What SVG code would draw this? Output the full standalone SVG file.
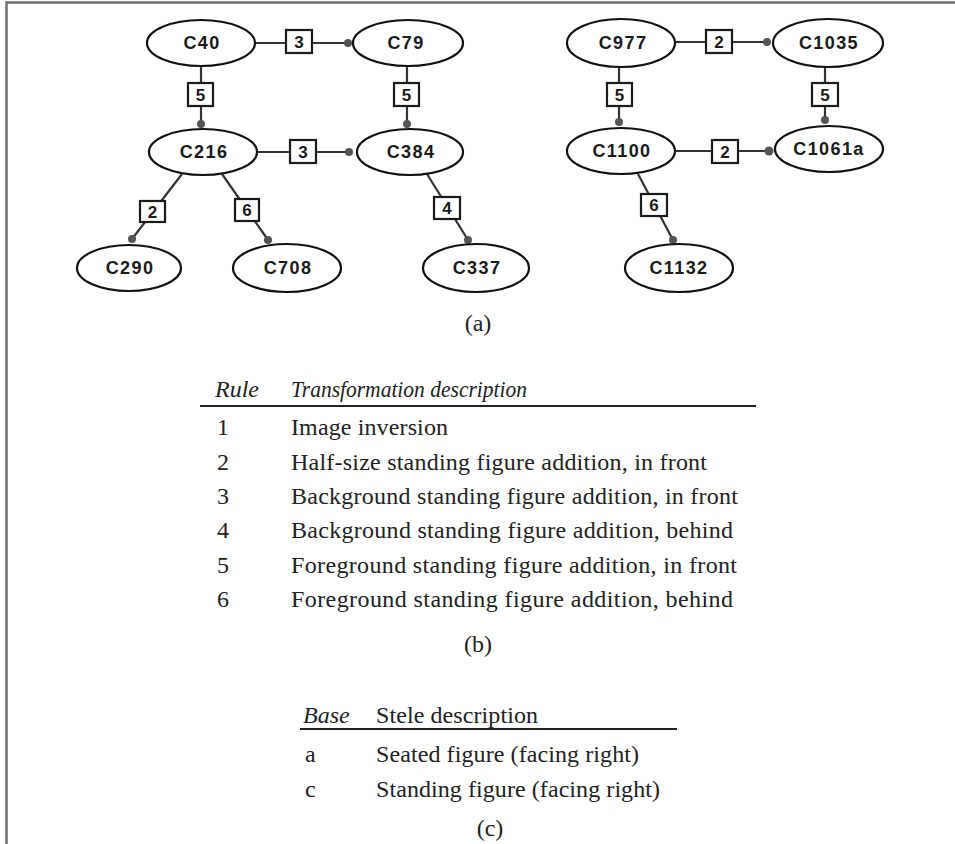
<svg xmlns="http://www.w3.org/2000/svg" width="955" height="844" viewBox="0 0 955 844">
<style>
.node ellipse{fill:#fff;stroke:#111;stroke-width:2.2}
.node text{font-family:"Liberation Sans",Arial,sans-serif;font-weight:bold;font-size:18px;letter-spacing:1.4px;fill:#1a1a1a;text-anchor:middle;dominant-baseline:central}
.edge line{stroke:#333;stroke-width:2.2}
.edge rect{fill:#fff;stroke:#1a1a1a;stroke-width:2.2}
.edge circle{fill:#555}
.edge text{font-family:"Liberation Sans",Arial,sans-serif;font-weight:bold;font-size:17px;fill:#1a1a1a;text-anchor:middle;dominant-baseline:central}
.t{font-family:"Liberation Serif","Times New Roman",serif;font-size:24px;fill:#222}
.i{font-style:italic}
.c{text-anchor:middle}
</style>
<path d="M6.5,844 V2.5 H955" fill="none" stroke="#6e6e6e" stroke-width="2.5"/>
<g id="connectors">
  <g class="edge"><line x1="255" y1="43" x2="348" y2="43"/><rect x="286" y="30" width="26" height="23"/><text x="299" y="42">3</text><circle cx="348" cy="43" r="4"/></g>
  <g class="edge"><line x1="201" y1="66" x2="201" y2="124"/><rect x="188" y="83" width="25" height="23"/><text x="200.5" y="95">5</text><circle cx="201" cy="124" r="4"/></g>
  <g class="edge"><line x1="407" y1="66" x2="407" y2="124"/><rect x="394" y="83" width="25" height="23"/><text x="406.5" y="95">5</text><circle cx="407" cy="124" r="4"/></g>
  <g class="edge"><line x1="257" y1="152" x2="349" y2="152"/><rect x="290" y="140" width="26" height="23"/><text x="303" y="152">3</text><circle cx="349" cy="152" r="4"/></g>
  <g class="edge"><line x1="182" y1="174" x2="132" y2="239"/><rect x="140" y="201" width="25" height="21"/><text x="152.5" y="212">2</text><circle cx="132" cy="239" r="4"/></g>
  <g class="edge"><line x1="222" y1="174" x2="268" y2="240"/><rect x="235" y="199" width="24" height="22"/><text x="247" y="210">6</text><circle cx="268" cy="240" r="4"/></g>
  <g class="edge"><line x1="427" y1="174" x2="468" y2="240"/><rect x="434" y="197" width="26" height="22"/><text x="447" y="208">4</text><circle cx="468" cy="240" r="4"/></g>
  <g class="edge"><line x1="675" y1="42" x2="767" y2="42"/><rect x="706" y="30" width="26" height="23"/><text x="719" y="42">2</text><circle cx="767" cy="42" r="4"/></g>
  <g class="edge"><line x1="619" y1="67" x2="619" y2="122"/><rect x="607" y="83" width="25" height="23"/><text x="619.5" y="95">5</text><circle cx="619" cy="122" r="4"/></g>
  <g class="edge"><line x1="825" y1="67" x2="825" y2="120"/><rect x="812" y="83" width="26" height="23"/><text x="825" y="95">5</text><circle cx="825" cy="120" r="4"/></g>
  <g class="edge"><line x1="675" y1="151" x2="769" y2="151"/><rect x="712" y="140" width="26" height="23"/><text x="725" y="152">2</text><circle cx="769" cy="151" r="4.5"/></g>
  <g class="edge"><line x1="638" y1="174" x2="673" y2="240"/><rect x="641" y="194" width="26" height="22"/><text x="654" y="205">6</text><circle cx="673" cy="240" r="4"/></g>
</g>
<g id="C40" class="node"><ellipse cx="201" cy="43" rx="54" ry="23"/><text x="202" y="43">C40</text></g>
<g id="C79" class="node"><ellipse cx="408" cy="43" rx="55" ry="23"/><text x="406" y="43">C79</text></g>
<g id="C216" class="node"><ellipse cx="203" cy="152" rx="54" ry="23"/><text x="204" y="152">C216</text></g>
<g id="C384" class="node"><ellipse cx="410" cy="152" rx="53" ry="23"/><text x="411" y="152">C384</text></g>
<g id="C290" class="node"><ellipse cx="129" cy="268" rx="52" ry="23"/><text x="130" y="268">C290</text></g>
<g id="C708" class="node"><ellipse cx="287" cy="268" rx="54" ry="24"/><text x="288" y="268">C708</text></g>
<g id="C337" class="node"><ellipse cx="476" cy="268" rx="53" ry="24"/><text x="477" y="268">C337</text></g>
<g id="C977" class="node"><ellipse cx="621" cy="43" rx="54" ry="24"/><text x="623" y="43">C977</text></g>
<g id="C1035" class="node"><ellipse cx="828" cy="43" rx="55" ry="24"/><text x="829" y="43">C1035</text></g>
<g id="C1100" class="node"><ellipse cx="621" cy="151" rx="54" ry="23"/><text x="622" y="151">C1100</text></g>
<g id="C1061a" class="node"><ellipse cx="829" cy="149" rx="54" ry="23"/><text x="829" y="149">C1061a</text></g>
<g id="C1132" class="node"><ellipse cx="679" cy="268" rx="54" ry="24"/><text x="679" y="268">C1132</text></g>
<text class="t c" x="478" y="331">(a)</text>
<g id="table-b">
  <text class="t i" x="215" y="397">Rule</text>
  <text class="t i" x="291" y="397" textLength="236" lengthAdjust="spacingAndGlyphs">Transformation description</text>
  <line x1="200" y1="406" x2="756" y2="406" stroke="#222" stroke-width="2"/>
  <text class="t" x="217" y="435">1</text><text class="t" x="291" y="435" textLength="157">Image inversion</text>
  <text class="t" x="217" y="470">2</text><text class="t" x="291" y="470" textLength="416">Half-size standing figure addition, in front</text>
  <text class="t" x="217" y="504">3</text><text class="t" x="291" y="504" textLength="447">Background standing figure addition, in front</text>
  <text class="t" x="217" y="538">4</text><text class="t" x="291" y="538" textLength="442">Background standing figure addition, behind</text>
  <text class="t" x="217" y="573">5</text><text class="t" x="291" y="573" textLength="446">Foreground standing figure addition, in front</text>
  <text class="t" x="217" y="607">6</text><text class="t" x="291" y="607" textLength="442">Foreground standing figure addition, behind</text>
</g>
<text class="t c" x="478" y="652">(b)</text>
<g id="table-c">
  <text class="t i" x="303" y="723">Base</text>
  <text class="t" x="376" y="723" textLength="162">Stele description</text>
  <line x1="300" y1="729" x2="677" y2="729" stroke="#222" stroke-width="2"/>
  <text class="t" x="305" y="762">a</text><text class="t" x="376" y="762" textLength="263">Seated figure (facing right)</text>
  <text class="t" x="305" y="797">c</text><text class="t" x="376" y="797" textLength="284">Standing figure (facing right)</text>
</g>
<text class="t c" x="490" y="836">(c)</text>
</svg>
